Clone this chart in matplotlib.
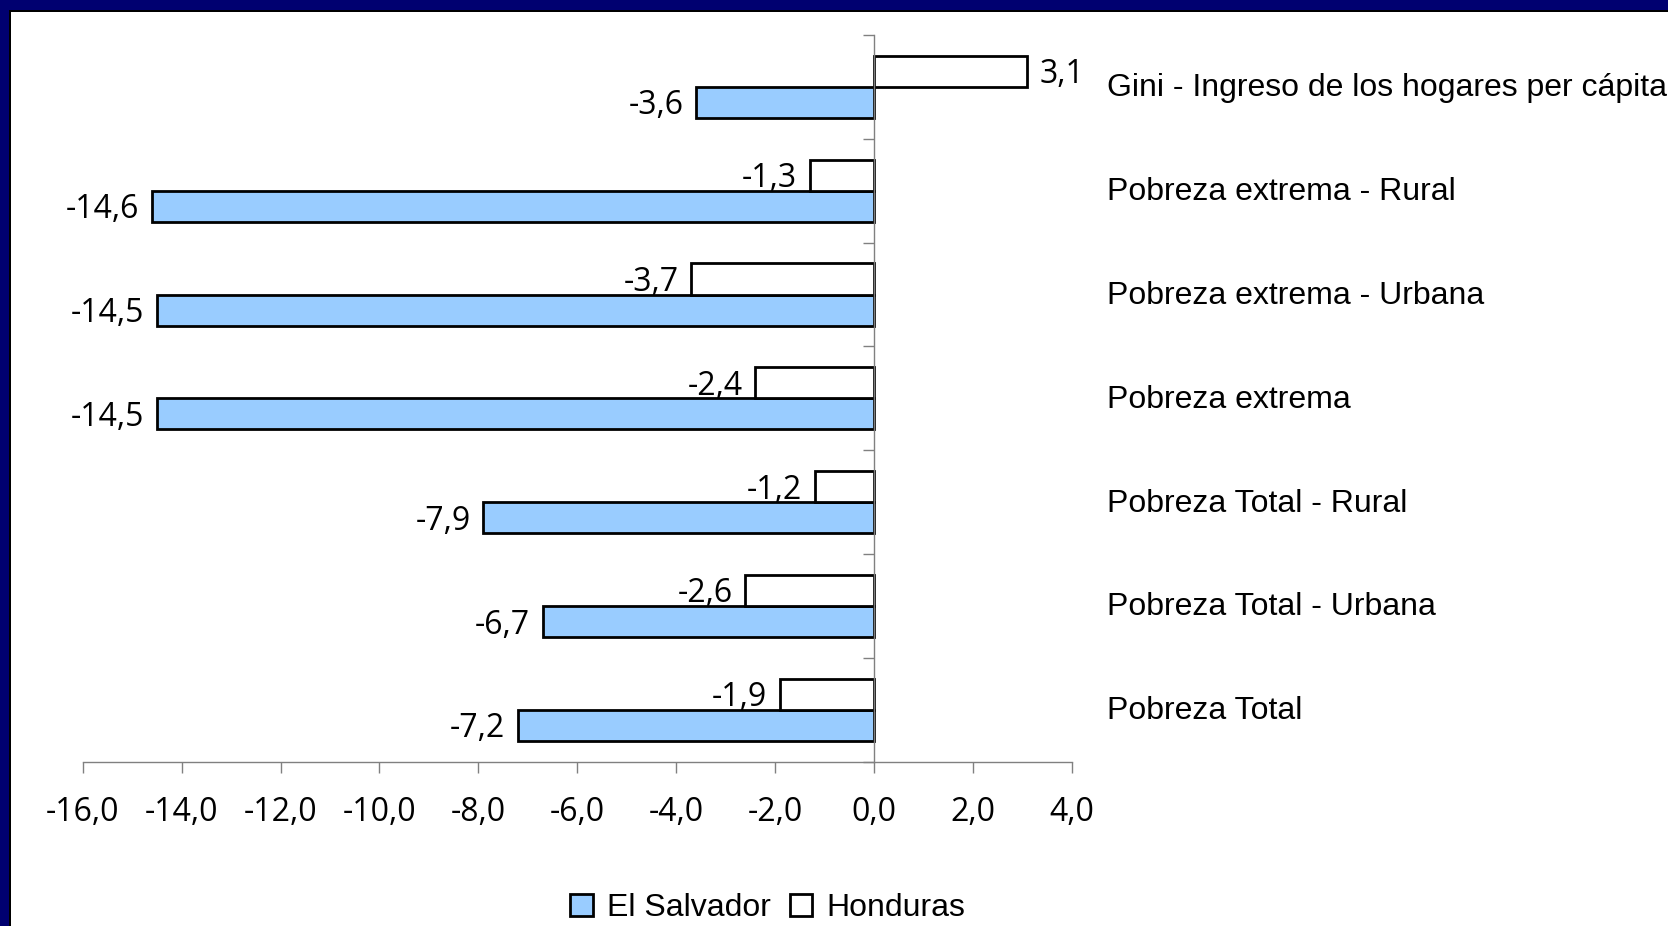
import matplotlib
matplotlib.use("Agg")
import matplotlib.pyplot as plt
from matplotlib.patches import Rectangle
from matplotlib.transforms import blended_transform_factory

categories = ["Pobreza Total", "Pobreza Total - Urbana", "Pobreza Total - Rural",
              "Pobreza extrema", "Pobreza extrema - Urbana", "Pobreza extrema - Rural",
              "Gini - Ingreso de los hogares per cápita"]
el_salvador = [-7.2, -6.7, -7.9, -14.5, -14.5, -14.6, -3.6]
honduras = [-1.9, -2.6, -1.2, -2.4, -3.7, -1.3, 3.1]
xticks = [-16, -14, -12, -10, -8, -6, -4, -2, 0, 2, 4]

W, H = 1668, 926
fig = plt.figure(figsize=(W / 100, H / 100), dpi=100)
fig.patch.set_facecolor("white")

# dark blue slide frame (top and left)
fig.patches.append(Rectangle((0, 1 - 10 / H), 1, 10 / H, transform=fig.transFigure,
                             facecolor="#000070", edgecolor="none", zorder=0))
fig.patches.append(Rectangle((0, 1 - 12 / H), 1, 2 / H, transform=fig.transFigure,
                             facecolor="#000000", edgecolor="none", zorder=0))
fig.patches.append(Rectangle((0, 0), 9 / W, 1, transform=fig.transFigure,
                             facecolor="#000070", edgecolor="none", zorder=0))
fig.patches.append(Rectangle((9 / W, 0), 2 / W, 1 - 10 / H, transform=fig.transFigure,
                             facecolor="#000000", edgecolor="none", zorder=0))

x0, x1 = 82.7, 1071.7
ytop, ybot = 35, 761.7
ax = fig.add_axes([x0 / W, 1 - ybot / H, (x1 - x0) / W, (ybot - ytop) / H])
ax.set_facecolor("none")

num_font = "Open Sans"
lab_font = "Liberation Sans"
fs = 23

pos = list(range(len(categories)))
h = 0.3
ax.barh([p - h / 2 for p in pos], el_salvador, height=h, color="#99CCFF",
        edgecolor="black", linewidth=2.0, label="El Salvador", zorder=3)
ax.barh([p + h / 2 for p in pos], honduras, height=h, color="white",
        edgecolor="black", linewidth=2.0, label="Honduras", zorder=3)

def fmt(v):
    return f"{v:.1f}".replace(".", ",")

for p, v in zip(pos, el_salvador):
    off = -9 if v < 0 else 9
    ax.annotate(fmt(v), xy=(v, p - h / 2), xytext=(off, -2.5), textcoords="offset points",
                ha="right" if v < 0 else "left", va="center", fontsize=fs,
                family=num_font, color="black", zorder=4)
for p, v in zip(pos, honduras):
    off = -9 if v < 0 else 9
    ax.annotate(fmt(v), xy=(v, p + h / 2), xytext=(off, -2.5), textcoords="offset points",
                ha="right" if v < 0 else "left", va="center", fontsize=fs,
                family=num_font, color="black", zorder=4)

trans = blended_transform_factory(fig.transFigure, ax.transData)
for p, c in zip(pos, categories):
    ax.annotate(c, xy=(1107 / W, p), xycoords=trans, xytext=(0, -1),
                textcoords="offset points", ha="left", va="center",
                fontsize=fs, family=lab_font, color="black")

ax.set_xlim(-16, 4)
ax.set_ylim(-0.5, len(categories) - 0.5)

for s in ["top", "right"]:
    ax.spines[s].set_visible(False)
ax.spines["left"].set_position(("data", 0))
ax.spines["left"].set_color("#808080")
ax.spines["bottom"].set_color("#808080")
ax.spines["left"].set_linewidth(1.0)
ax.spines["bottom"].set_linewidth(1.0)
ax.spines["left"].set_zorder(5)

ax.set_yticks([p - 0.5 for p in pos] + [len(categories) - 0.5])
ax.set_yticklabels([])
ax.tick_params(axis="y", direction="out", length=8, color="#808080", width=1.0)

ax.set_xticks(xticks)
ax.set_xticklabels([fmt(float(t)) for t in xticks], fontsize=fs, family=num_font)
ax.tick_params(axis="x", direction="out", length=8, color="#808080", width=1.0, pad=17)

leg = fig.legend(loc="center", bbox_to_anchor=(768 / W, 1 - 908 / H), ncol=2,
                 frameon=False, prop={"family": lab_font, "size": fs},
                 handlelength=0.7, handleheight=0.7, handletextpad=0.45,
                 columnspacing=0.6)

fig.savefig("out.png", dpi=100, facecolor=fig.get_facecolor())
